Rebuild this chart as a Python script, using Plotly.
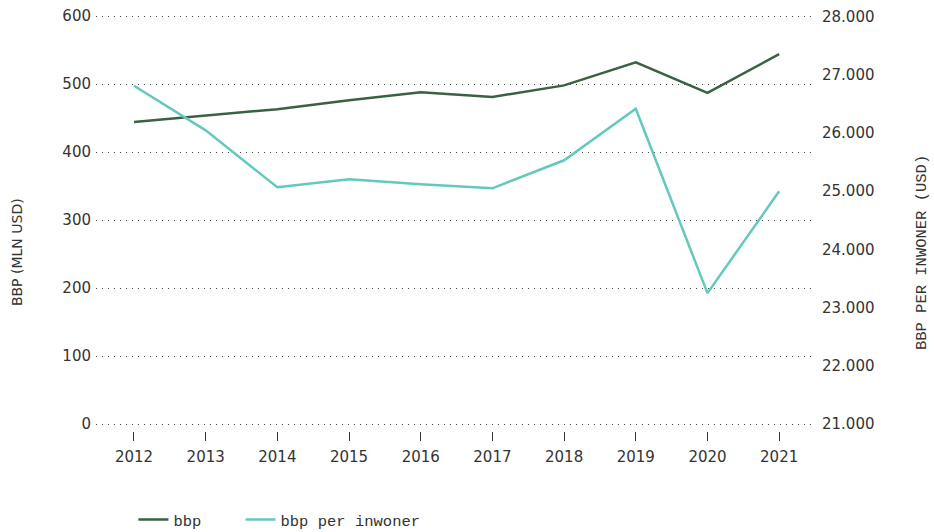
import plotly.graph_objects as go

years = [2012, 2013, 2014, 2015, 2016, 2017, 2018, 2019, 2020, 2021]
bbp = [444, 454, 463, 476, 488, 481, 498, 532, 487, 544]
bbp_per_inwoner = [26810, 26044, 25066, 25204, 25118, 25049, 25530, 26416, 23248, 24998]

left_ticks = [0, 100, 200, 300, 400, 500, 600]
right_ticks = [21000, 22000, 23000, 24000, 25000, 26000, 27000, 28000]
right_labels = ["21.000", "22.000", "23.000", "24.000", "25.000", "26.000", "27.000", "28.000"]

dark = "#3a6141"
teal = "#64c9bd"
txt = "#333333"
sans = "DejaVu Sans, sans-serif"
mono = "Liberation Mono, DejaVu Sans Mono, monospace"

fig = go.Figure()
fig.add_trace(go.Scatter(x=years, y=bbp, name="bbp", mode="lines",
                         line=dict(color=dark, width=2.5), yaxis="y", legend="legend"))
fig.add_trace(go.Scatter(x=years, y=bbp_per_inwoner, name="bbp per inwoner", mode="lines",
                         line=dict(color=teal, width=2.5), yaxis="y2", legend="legend2"))

leg_common = dict(orientation="h", xanchor="left", y=-0.214, yanchor="middle",
                  font=dict(family=mono, size=15.5, color=txt), bgcolor="rgba(0,0,0,0)")

fig.update_layout(
    width=934, height=532,
    margin=dict(l=96, r=119, t=15, b=101, autoexpand=False),
    plot_bgcolor="white", paper_bgcolor="white",
    font=dict(family=sans, size=15, color=txt),
    showlegend=True,
    legend=dict(x=0.052, **leg_common),
    legend2=dict(x=0.201, **leg_common),
    xaxis=dict(range=[2011.47, 2021.5], tickvals=years, ticktext=[str(y) for y in years],
               showgrid=False, zeroline=False, showline=False, automargin=False,
               ticks="outside", ticklen=9, tickwidth=1, tickcolor=txt, ticklabelstandoff=3,
               tickfont=dict(family=sans, size=15, color=txt)),
    yaxis=dict(range=[-10.3, 601.5], tickvals=left_ticks, showgrid=True,
               gridcolor="#444444", griddash="1px,5px", gridwidth=1,
               zeroline=False, showline=False, ticks="", automargin=False, ticklabelstandoff=4,
               ticklabeloverflow="allow",
               tickfont=dict(family=sans, size=15, color=txt)),
    yaxis2=dict(range=[20880, 28025.5], tickvals=right_ticks, ticktext=right_labels,
                overlaying="y", side="right", showgrid=False, zeroline=False, showline=False,
                ticks="", automargin=False, ticklabelstandoff=6, ticklabeloverflow="allow",
                tickfont=dict(family=sans, size=15, color=txt)),
    annotations=[
        dict(text="BBP (MLN USD)", xref="paper", yref="paper", x=-0.1099, y=0.43,
             textangle=-90, showarrow=False, xanchor="center", yanchor="middle",
             font=dict(family=sans, size=14, color=txt)),
        dict(text="BBP PER INWONER (USD)", xref="paper", yref="paper", x=1.1488, y=0.43,
             textangle=-90, showarrow=False, xanchor="center", yanchor="middle",
             font=dict(family=mono, size=15.5, color=txt)),
    ],
)

fig.write_html("out.html", config={"displayModeBar": False},
               post_script="document.body.style.margin='0';")
